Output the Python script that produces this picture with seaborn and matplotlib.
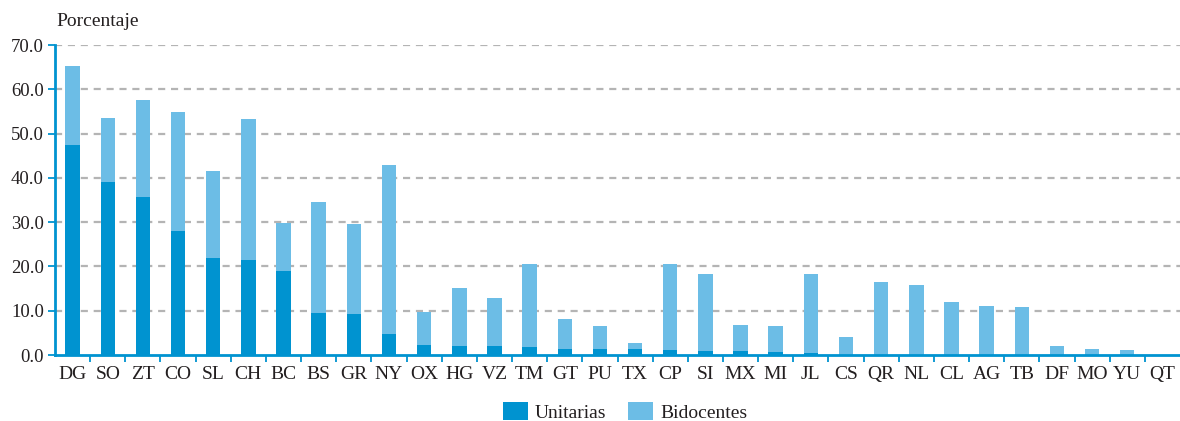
import numpy as np
import pandas as pd
import matplotlib
matplotlib.use("Agg")
import matplotlib.pyplot as plt
from matplotlib.patches import Patch
from matplotlib.ticker import FixedLocator
import seaborn as sns

estados = ["DG", "SO", "ZT", "CO", "SL", "CH", "BC", "BS", "GR", "NY", "OX",
           "HG", "VZ", "TM", "GT", "PU", "TX", "CP", "SI", "MX", "MI", "JL",
           "CS", "QR", "NL", "CL", "AG", "TB", "DF", "MO", "YU", "QT"]
unitarias = [47.4, 39.1, 35.7, 27.9, 22.0, 21.4, 19.0, 9.5, 9.3, 4.7, 2.3,
             2.1, 2.0, 1.9, 1.4, 1.4, 1.4, 1.1, 0.9, 0.8, 0.7, 0.5,
             0.0, 0.0, 0.0, 0.0, 0.0, 0.0, 0.0, 0.0, 0.0, 0.0]
bidocentes = [17.8, 14.5, 21.8, 27.0, 19.5, 31.9, 10.7, 25.0, 20.3, 38.2, 7.4,
              13.0, 10.8, 18.7, 6.8, 5.2, 1.4, 19.5, 17.4, 5.9, 5.8, 17.8,
              4.1, 16.5, 15.8, 11.9, 11.1, 10.8, 2.0, 1.4, 1.1, 0.0]
y_ticks = [0, 10, 20, 30, 40, 50, 60, 70]

C_UNI = "#0093d0"
C_BID = "#6cbde6"
C_AXIS = "#0093d0"
C_TEXT = "#231f20"

df = pd.DataFrame({
    "estado": estados,
    "unitarias": unitarias,
    "total": np.array(unitarias) + np.array(bidocentes),
})

sns.set_theme(style="white")
plt.rcParams["font.family"] = ["Liberation Serif", "DejaVu Serif"]

fig = plt.figure(figsize=(11.8, 4.21), dpi=100)
ax = fig.add_axes([55 / 1180, 66 / 421, 1125 / 1180, 310 / 421])

bw = 0.41
# stacked bars: full height in light blue, single-teacher share drawn over it
sns.barplot(data=df, x="estado", y="total", color=C_BID, saturation=1,
            width=bw, ax=ax, edgecolor="none", zorder=3)
sns.barplot(data=df, x="estado", y="unitarias", color=C_UNI, saturation=1,
            width=bw, ax=ax, edgecolor="none", zorder=4)

ax.set_xlim(-0.5, len(estados) - 0.5)
ax.set_ylim(0, 70)
ax.yaxis.set_major_locator(FixedLocator(y_ticks))
ax.set_yticklabels([f"{v:.1f}" for v in y_ticks])
ax.set_xlabel("")
ax.set_ylabel("")

for v in y_ticks[1:]:
    ax.axhline(v, color="#b4b4b4", lw=1.6, ls=(0, (3.2, 2.6)), zorder=1)

for side in ["top", "right"]:
    ax.spines[side].set_visible(False)
for side in ["left", "bottom"]:
    ax.spines[side].set_color(C_AXIS)
    ax.spines[side].set_linewidth(2)
    ax.spines[side].set_zorder(5)

ax.xaxis.set_minor_locator(FixedLocator(np.arange(0.5, len(estados) - 0.5, 1)))
ax.tick_params(axis="x", which="major", length=0, pad=8, labelsize=14,
               labelcolor=C_TEXT)
ax.tick_params(axis="x", which="minor", length=5, width=1.3, color=C_AXIS,
               direction="out", bottom=True)
ax.tick_params(axis="y", which="major", length=5, width=1.3, color=C_AXIS,
               direction="out", left=True, pad=3, labelsize=13.5,
               labelcolor=C_TEXT)

fig.text(56 / 1180, 1 - 22 / 421, "Porcentaje", fontsize=14, color=C_TEXT,
         ha="left", va="center")

handles = [Patch(facecolor=C_UNI, edgecolor="none", label="Unitarias"),
           Patch(facecolor=C_BID, edgecolor="none", label="Bidocentes")]
fig.legend(handles=handles, loc="center", bbox_to_anchor=(625 / 1180, 1 - 412 / 421),
           ncol=2, frameon=False, fontsize=14, handlelength=1.3,
           handleheight=1.0, handletextpad=0.35, columnspacing=1.1,
           labelcolor=C_TEXT)

fig.savefig("out.png", dpi=100)
